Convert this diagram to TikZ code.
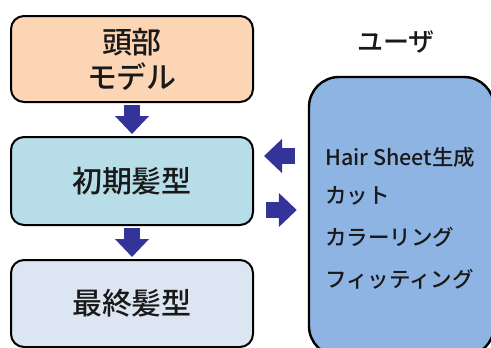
\documentclass[tikz,border=0pt]{standalone}
\usepackage{fontspec}
\setmainfont{Noto Sans CJK JP}[UprightFont=* Medium]
\usetikzlibrary{arrows.meta}
\definecolor{peach}{HTML}{FCD5B5}
\definecolor{aqua}{HTML}{B7DEE8}
\definecolor{pale}{HTML}{DCE6F2}
\definecolor{userblue}{HTML}{8EB4E3}
\definecolor{navy}{HTML}{333399}
\tikzset{
  stage/.style={draw=black, line width=2pt, rounded corners=13pt, minimum width=242pt, align=center, font=\fontsize{30}{35}\selectfont, text=black!90},
  fat/.style={navy, line width=16pt, -{Triangle[width=33pt,length=18pt]}},
  item/.style={anchor=west, inner sep=0pt, font=\fontsize{21.5}{24}\selectfont, text=black!90},
}
\begin{document}
\begin{tikzpicture}[x=1pt,y=-1pt]
\useasboundingbox (0,0) rectangle (491,348);
\clip (0,0) rectangle (491,348);
\node[stage, fill=peach, minimum height=86pt] (head) at (132,59) {頭部\\モデル};
\node[stage, fill=aqua, minimum height=88pt] (init) at (132,181) {初期髪型};
\node[stage, fill=pale, minimum height=87pt] (final) at (132,303.5) {最終髪型};
\node[draw=black, line width=2.4pt, rounded corners=30pt, fill=userblue, minimum width=185pt, minimum height=279pt, inner sep=0pt] (user) at (401.5,216.5) {};
\node[font=\fontsize{26}{30}\selectfont, text=black!90] (ulabel) at (396,42) {ユーザ};
\node[item] (i1) at (325,157) {Hair Sheet生成};
\node[item] (i2) at (325,196) {カット};
\node[item] (i3) at (325,237) {カラーリング};
\node[item] (i4) at (325,279) {フィッティング};
\draw[fat, shorten <=2pt, shorten >=2pt] (head.south) -- (init.north);
\draw[fat, shorten <=2pt, shorten >=2pt] (init.south) -- (final.north);
\coordinate (L) at ([yshift=25pt]init.east);
\coordinate (R) at ([yshift=-29pt]init.east);
\draw[fat, shorten <=13pt, shorten >=10pt] (user.west |- L) -- (L);
\draw[fat, shorten <=12pt, shorten >=11pt] (R) -- (user.west |- R);
\end{tikzpicture}
\end{document}
